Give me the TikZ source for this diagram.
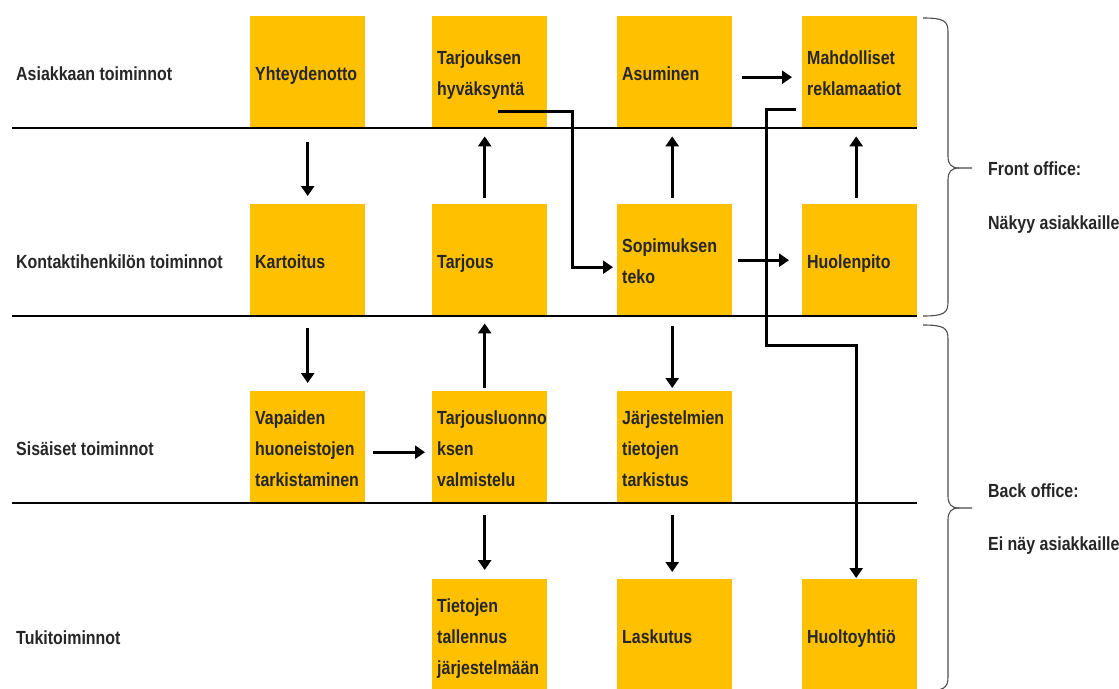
\documentclass[tikz,border=0pt]{standalone}
\usepackage{fontspec}
\setmainfont[FakeStretch=0.84]{Liberation Sans}
\usetikzlibrary{arrows.meta}
\definecolor{boxfill}{RGB}{255,192,0}
\definecolor{ink}{RGB}{38,38,38}

\begin{document}
\begin{tikzpicture}[x=1pt,y=-1pt,
  every node/.style={font=\fontsize{19}{31}\selectfont\bfseries, text=ink},
  task/.style={fill=boxfill, anchor=north west, minimum height=112pt,
    text width=105pt, inner xsep=5pt, inner ysep=0pt, align=left,
    execute at begin node={\rule{0pt}{22pt}},
    execute at end node={\rule[-6pt]{0pt}{0pt}}},
  lane/.style={anchor=base west, inner sep=0pt},
  sep/.style={line width=2pt, black},
  arr/.style={line width=3pt, -{Triangle[width=13pt,length=10pt]}},
  brace/.style={line width=1.1pt, black!70},
]
\useasboundingbox (0,0) rectangle (1119,688);

% lane titles
\node[lane] (l1) at (16,80)  {Asiakkaan toiminnot};
\node[lane] (l2) at (16,268) {Kontaktihenkilön toiminnot};
\node[lane] (l3) at (16,455) {Sisäiset toiminnot};
\node[lane] (l4) at (16,644) {Tukitoiminnot};

% customer actions
\node[task] (Y)  at (250,16) {Yhteydenotto};
\node[task] (T1) at (432,16) {Tarjouksen\\hyväksyntä};
\node[task] (A)  at (617,16) {Asuminen};
\node[task] (M)  at (802,16) {Mahdolliset\\reklamaatiot};

% contact person actions
\node[task] (K)  at (250,204) {Kartoitus};
\node[task] (T2) at (432,204) {Tarjous};
\node[task] (S)  at (617,204) {Sopimuksen\\teko};
\node[task] (H)  at (802,204) {Huolenpito};

% internal actions
\node[task] (V)  at (250,391) {Vapaiden\\huoneistojen\\tarkistaminen};
\node[task] (T3) at (432,391) {Tarjousluonno\\ksen\\valmistelu};
\node[task] (J)  at (617,391) {Järjestelmien\\tietojen\\tarkistus};

% support actions
\node[task] (T4) at (432,579) {Tietojen\\tallennus\\järjestelmään};
\node[task] (L)  at (617,579) {Laskutus};
\node[task] (Hy) at (802,579) {Huoltoyhtiö};

% lane separators
\draw[sep] (12,128) -- (917,128);
\draw[sep] (12,316) -- (917,316);
\draw[sep] (12,503) -- (917,503);

% flow
\draw[arr, shorten <=14pt, shorten >=8pt] (Y.south) -- (K.north);
\draw[arr, shorten <=12pt, shorten >=8pt] (K.south) -- (V.north);
\draw[arr, shorten <=8pt, shorten >=7pt] ([yshift=-5pt]V.east) -- ([yshift=-5pt]T3.west);
\draw[arr, shorten <=3pt, shorten >=7pt] ([xshift=-5pt]T3.north) -- ([xshift=-5pt]T2.south);
\draw[arr, shorten <=6pt, shorten >=8pt] ([xshift=-5pt]T2.north) -- ([xshift=-5pt]T1.south);
\draw[arr, shorten <=12pt, shorten >=9pt] ([xshift=-5pt]T3.south) -- ([xshift=-5pt]T4.north);
\draw[arr, shorten <=6pt, shorten >=8pt] ([xshift=-2.5pt]S.north) -- ([xshift=-2.5pt]A.south);
\draw[arr, shorten <=10pt, shorten >=3pt] ([xshift=-2.5pt]S.south) -- ([xshift=-2.5pt]J.north);
\draw[arr, shorten <=12pt, shorten >=7pt] ([xshift=-2.5pt]J.south) -- ([xshift=-2.5pt]L.north);
\draw[arr, shorten <=6pt, shorten >=13pt] (S.east) -- (H.west);
\draw[arr, shorten <=10pt, shorten >=10pt] ([yshift=-5pt]A.east) -- ([yshift=-5pt]M.west);
\draw[arr, shorten <=6pt, shorten >=8pt] ([xshift=-3.5pt]H.north) -- ([xshift=-3.5pt]M.south);

% crossing connectors
\draw[arr, shorten >=4pt] ([xshift=8pt,yshift=17pt]T1.south) -- ++(75,0)
  |- ([yshift=-7pt]S.west);
\draw[arr, shorten >=1pt] ([xshift=-6pt,yshift=-37pt]M.west) -- ++(-30,0)
  -- ++(0,236) -| ([xshift=-3.5pt]Hy.north);

% office braces
\draw[brace] (923,18) .. controls (944,18) and (948,21) .. (948,32) -- (948,156)
  .. controls (948,164) and (951,168) .. (959,168) -- (972,168);
\draw[brace] (959,168) .. controls (951,168) and (948,172) .. (948,180) -- (948,302)
  .. controls (948,313) and (944,316) .. (923,316);
\draw[brace] (923,325) .. controls (944,325) and (948,328) .. (948,339) -- (948,496)
  .. controls (948,504) and (951,508) .. (959,508) -- (972,508);
\draw[brace] (959,508) .. controls (951,508) and (948,512) .. (948,520) -- (948,677)
  .. controls (948,688) and (944,691) .. (923,691);

\node[lane] (fo)  at (988,175) {Front office:};
\node[lane] (fo2) at (988,229) {Näkyy asiakkaille};
\node[lane] (bo)  at (988,497) {Back office:};
\node[lane] (bo2) at (988,550) {Ei näy asiakkaille};
\end{tikzpicture}
\end{document}
